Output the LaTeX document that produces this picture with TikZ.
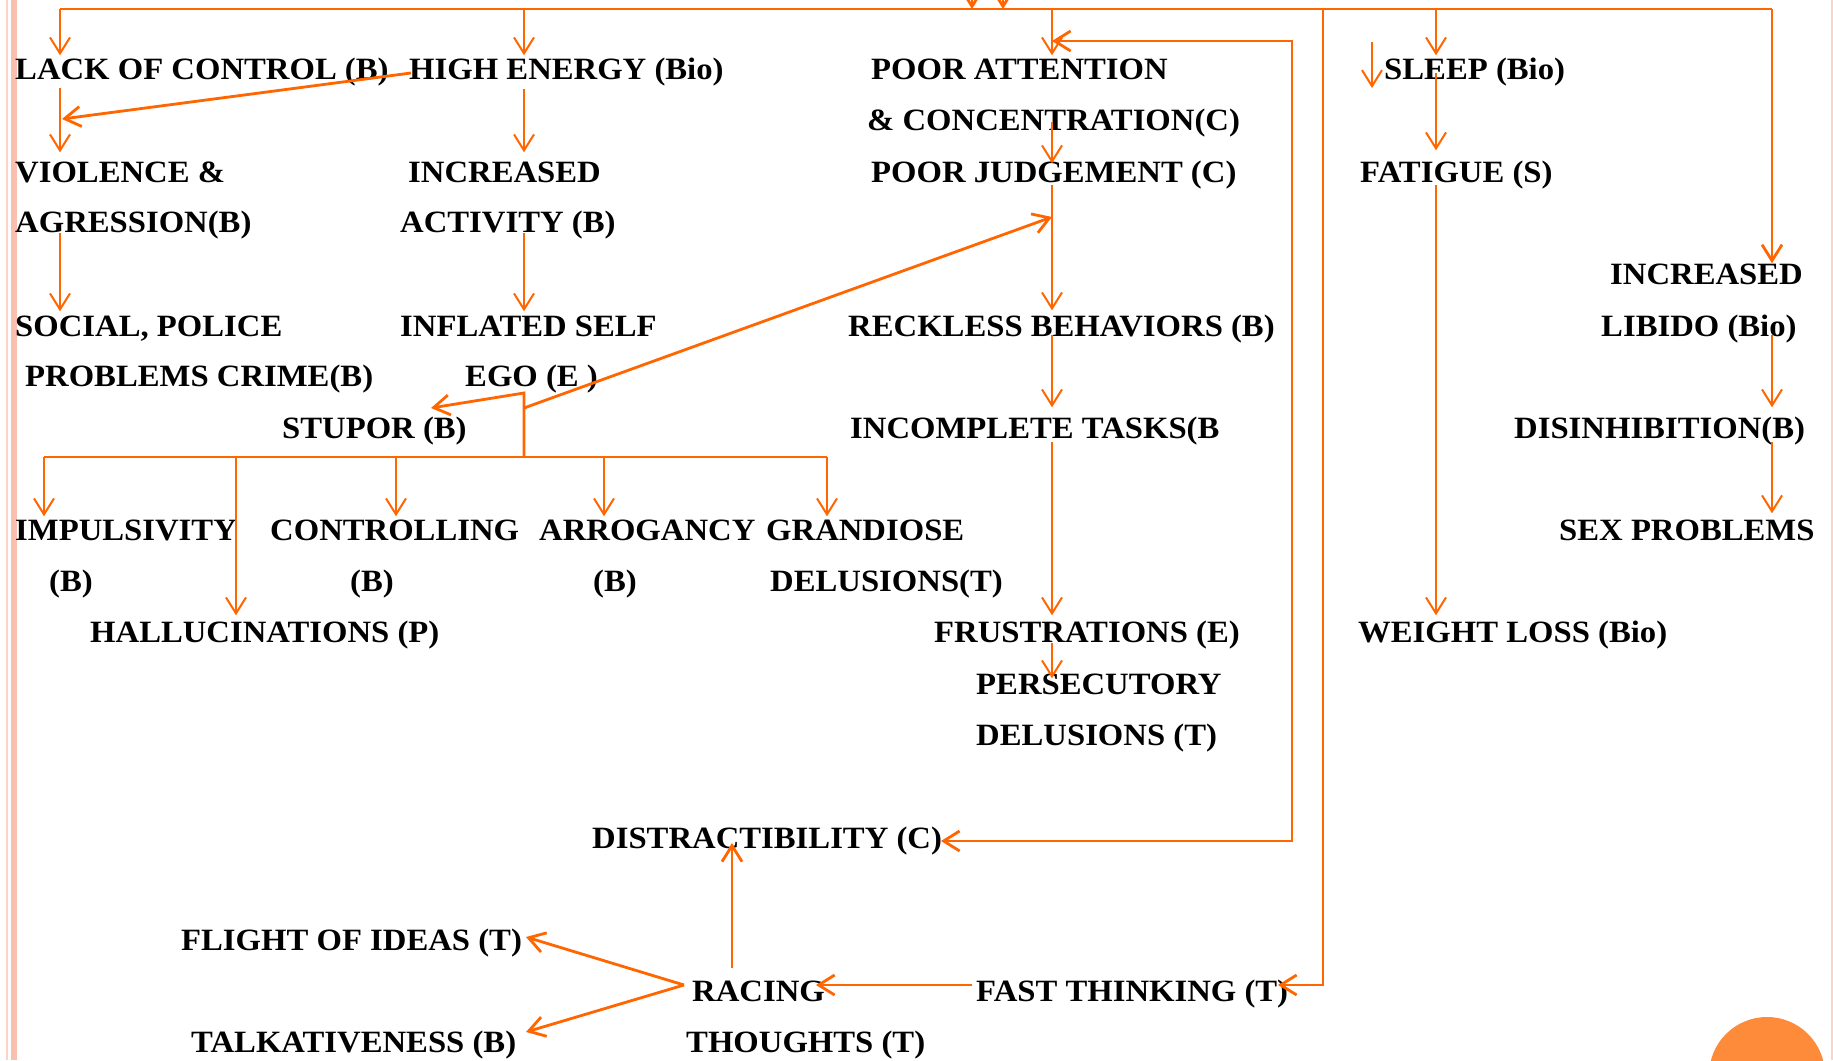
\documentclass[tikz,border=0pt]{standalone}
\usepackage{fontspec}
\setmainfont{Liberation Serif}[FakeStretch=1.055]
\usetikzlibrary{arrows.meta}
\definecolor{ln}{RGB}{255,102,0}
\definecolor{pk}{RGB}{250,192,175}
\definecolor{dotc}{RGB}{253,139,58}
\begin{document}
\begin{tikzpicture}[x=1pt,y=-1pt,
  lbl/.style={anchor=base west, inner sep=0pt, text height=21pt, text depth=0pt,
              font=\fontsize{31}{36}\selectfont\bfseries},
  wire/.style={draw=ln, line width=2pt},
  thick wire/.style={draw=ln, line width=2.8pt},
  conn/.style={wire, -{Straight Barb[length=16pt,width=20pt]}},
  tconn/.style={thick wire, -{Straight Barb[length=16pt,width=20pt]}},
  bconn/.style={thick wire, {Straight Barb[length=16pt,width=20pt]}-{Straight Barb[length=16pt,width=20pt]}},
]
\useasboundingbox (0,0) rectangle (1833,1060);
\clip (0,0) rectangle (1833,1060);
\fill[white] (0,0) rectangle (1833,1060);
% page decoration
\draw[pk!70, line width=1.5pt] (7,0) -- (7,1060);
\fill[pk] (11,0) rectangle (17,1060);
\draw[pk!70, line width=1.5pt] (1832,0) -- (1832,1060);
\fill[dotc] (1767,1075) circle (58);

% ---------- labels ----------
\node[lbl] (lack)  at (15,79.5)   {LACK OF CONTROL (B)};
\node[lbl] (high)  at (409,79.5)  {HIGH ENERGY (Bio)};
\node[lbl] (poorA) at (871,79.5)  {POOR ATTENTION};
\node[lbl] (sleep) at (1384,79.5) {SLEEP (Bio)};
\node[lbl] (conc)  at (867,130.5) {\& CONCENTRATION(C)};
\node[lbl] (viol)  at (15,182.5)  {VIOLENCE \&};
\node[lbl] (incA)  at (408,182.5) {INCREASED};
\node[lbl] (poorJ) at (871,182.5) {POOR JUDGEMENT (C)};
\node[lbl] (fat)   at (1360,182.5) {FATIGUE (S)};
\node[lbl] (agr)   at (15,232.5)  {AGRESSION(B)};
\node[lbl] (act)   at (400,232.5) {ACTIVITY (B)};
\node[lbl] (incL)  at (1610,284.5) {INCREASED};
\node[lbl] (soc)   at (15,336.5)  {SOCIAL, POLICE};
\node[lbl] (infl)  at (400,336.5) {INFLATED SELF};
\node[lbl] (reck)  at (848,336.5) {RECKLESS BEHAVIORS (B)};
\node[lbl] (lib)   at (1601,336.5) {LIBIDO (Bio)};
\node[lbl] (prob)  at (25,386.5)  {PROBLEMS CRIME(B)};
\node[lbl] (ego)   at (465,386.5) {EGO (E )};
\node[lbl] (stup)  at (282,438.5) {STUPOR (B)};
\node[lbl] (inc)   at (850,438.5) {INCOMPLETE TASKS(B};
\node[lbl] (dis)   at (1514,438.5) {DISINHIBITION(B)};
\node[lbl] (imp)   at (15,540.5)  {IMPULSIVITY};
\node[lbl] (ctl)   at (270,540.5) {CONTROLLING};
\node[lbl] (arr)   at (539,540.5) {ARROGANCY};
\node[lbl] (gra)   at (766,540.5) {GRANDIOSE};
\node[lbl] (sex)   at (1559,540.5) {SEX PROBLEMS};
\node[lbl] (impB)  at (49,591.5)  {(B)};
\node[lbl] (ctlB)  at (350,591.5) {(B)};
\node[lbl] (arrB)  at (593,591.5) {(B)};
\node[lbl] (gdel)  at (770,591.5) {DELUSIONS(T)};
\node[lbl] (hal)   at (90,642.5)  {HALLUCINATIONS (P)};
\node[lbl] (fru)   at (934,642.5) {FRUSTRATIONS (E)};
\node[lbl] (wl)    at (1358,642.5) {WEIGHT LOSS (Bio)};
\node[lbl] (pers)  at (976,694.5) {PERSECUTORY};
\node[lbl] (pdel)  at (976,745.5) {DELUSIONS (T)};
\node[lbl] (dist)  at (592,848.5) {DISTRACTIBILITY (C)};
\node[lbl] (fli)   at (181,950.5) {FLIGHT OF IDEAS (T)};
\node[lbl] (rac)   at (692,1001.5) {RACING};
\node[lbl] (fast)  at (976,1001.5) {FAST THINKING (T)};
\node[lbl] (talk)  at (191,1052.5) {TALKATIVENESS (B)};
\node[lbl] (thou)  at (686,1052.5) {THOUGHTS (T)};

% ---------- column / junction coordinates ----------
\coordinate (cA) at (60,9);
\coordinate (cB) at (524,9);
\coordinate (cC) at (1052,9);
\coordinate (cD) at (1436,9);
\coordinate (cE) at (1772,9);
\coordinate (cF) at (1323,9);
\coordinate (cG) at (1292,41);
\coordinate (cGb) at (1292,841);
\coordinate (distT) at (941,841);
\coordinate (s1) at (972,-30);
\coordinate (s2) at (1003,-30);
\coordinate (free) at (1372,42);
\coordinate (freeT) at (1372,88);
\coordinate (hiS) at (411,73);
\coordinate (viT) at (62,119);
\coordinate (egoJ) at (524,393);
\coordinate (egoD) at (524,408);
\coordinate (stT) at (431,408);
\coordinate (pjT) at (1052,217);
\coordinate (brJ) at (524,457);
\coordinate (brL) at (44,457);
\coordinate (brR) at (827,457);
\coordinate (hx) at (236,457);
\coordinate (cx) at (396,457);
\coordinate (ax) at (604,457);
\coordinate (racJ) at (684,985);
\coordinate (racB) at (732,968);
\coordinate (racT) at (732,843);
\coordinate (racE) at (816,985);
\coordinate (fastW) at (972,985);
\coordinate (fastE) at (1278,985);
\coordinate (fliT) at (526,937);
\coordinate (talkT) at (526,1032);

% ---------- top bus ----------
\draw[thick wire] (cA) -- (cE);
\draw[conn] (cA) -- (cA |- lack.north) [shorten >=3pt];
\draw[conn] (cB) -- (cB |- high.north) [shorten >=3pt];
\draw[conn] (cC) -- (cC |- poorA.north) [shorten >=3pt];
\draw[conn] (cD) -- (cD |- sleep.north) [shorten >=3pt];
\draw[tconn] (cE) -- (cE |- incL.north);
\draw[tconn] (s1) -- (s1 |- cA);
\draw[tconn] (s2) -- (s2 |- cA);
\draw[tconn] (cF) -- (cF |- fastE) -- (fastE);
\draw[bconn] (cC |- cG) -- (cG) -- (cGb) -- (distT);
\draw[conn] (free) -- (freeT);

% ---------- left column ----------
\draw[conn] (cA |- 0,88) -- (cA |- viol.north) [shorten >=9pt];
\draw[tconn] (hiS) -- (viT);
\draw[conn] (cB |- 0,89) -- (cB |- incA.north) [shorten >=9pt];
\draw[conn] (cA |- 0,233) -- (cA |- soc.north) [shorten >=4pt];
\draw[conn] (cB |- 0,233) -- (cB |- infl.north) [shorten >=4pt];

% ---------- centre column ----------
\draw[conn] (cC |- 0,122) -- (cC |- poorJ.north) [shorten >=-2pt];
\draw[conn] (cC |- 0,185) -- (cC |- reck.north) [shorten >=5pt];
\draw[conn] (cC |- 0,335) -- (cC |- inc.north) [shorten >=10pt];
\draw[conn] (cC |- 0,442) -- (cC |- fru.north) [shorten >=6pt];
\draw[conn] (cC |- 0,643) -- (cC |- pers.north) [shorten >=-5pt];

% ---------- ego branch ----------
\draw[tconn] (brJ) -- (egoJ) -- (stT);
\draw[tconn] (egoD) -- (pjT);
\draw[thick wire] (brL) -- (brR);
\draw[conn] (brL) -- (brL |- imp.north) [shorten >=3pt];
\draw[conn] (hx) -- (hx |- hal.north) [shorten >=6pt];
\draw[conn] (cx) -- (cx |- ctl.north) [shorten >=3pt];
\draw[conn] (ax) -- (ax |- arr.north) [shorten >=3pt];
\draw[conn] (brR) -- (brR |- gra.north) [shorten >=3pt];

% ---------- right columns ----------
\draw[conn] (cD |- 0,73) -- (cD |- fat.north) [shorten >=11pt];
\draw[conn] (cD |- 0,185) -- (cD |- wl.north) [shorten >=6pt];
\draw[conn] (cE |- 0,335) -- (cE |- dis.north) [shorten >=10pt];
\draw[conn] (cE |- 0,442) -- (cE |- sex.north) [shorten >=6pt];

% ---------- racing thoughts ----------
\draw[tconn] (racB) -- (racT);
\draw[tconn] (racJ) -- (fliT);
\draw[tconn] (racJ) -- (talkT);
\draw[tconn] (fastW) -- (racE);
\end{tikzpicture}
\end{document}
